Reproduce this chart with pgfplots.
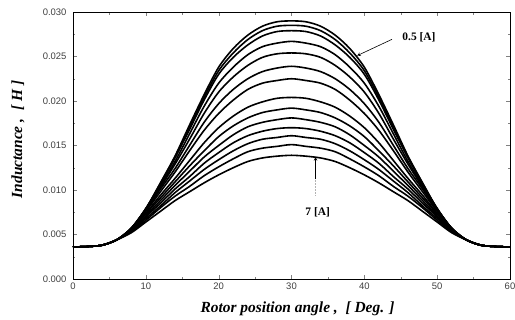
\documentclass[border=0pt]{standalone}
\usepackage{pgfplots}
\usepackage{pgfplotstable}
\pgfplotsset{compat=1.18}
\usepackage{fontspec}
\setmainfont{Liberation Serif}
\newfontfamily\arialf{Liberation Sans}
\pgfplotstableread{
t a b c d e f g h i j k l m n
0 0.0036 0.0036 0.0036 0.0036 0.0036 0.0036 0.0036 0.0036 0.0036 0.0036 0.0036 0.0036 0.0036 0.0036
2 0.00365 0.00365 0.00365 0.00365 0.00365 0.00365 0.00365 0.00365 0.00365 0.00365 0.00365 0.00365 0.00365 0.00365
4 0.0038 0.0038 0.0038 0.0038 0.0038 0.0038 0.0038 0.0038 0.0038 0.0038 0.0038 0.0038 0.0038 0.0038
6 0.0044 0.0044 0.0044 0.0044 0.0044 0.0044 0.0044 0.0044 0.0044 0.0044 0.0044 0.0044 0.0044 0.0044
8 0.0057 0.0057 0.0057 0.0057 0.0057 0.0057 0.0056 0.0056 0.0055 0.0055 0.0054 0.0054 0.0053 0.0052
10 0.0079 0.0079 0.0079 0.0079 0.0078 0.0077 0.0076 0.0074 0.0073 0.0071 0.0070 0.0068 0.0066 0.0064
12 0.0108 0.0107 0.0107 0.0105 0.0103 0.0101 0.0098 0.0094 0.0091 0.0088 0.0085 0.0082 0.0080 0.0076
14 0.0138 0.0137 0.0136 0.0132 0.0129 0.0124 0.0120 0.0113 0.0109 0.0105 0.0101 0.0097 0.0093 0.0088
16 0.0173 0.0171 0.0168 0.0163 0.0157 0.0150 0.0144 0.0133 0.0127 0.0121 0.0115 0.0110 0.0104 0.0098
18 0.0207 0.0204 0.0201 0.0194 0.0186 0.0176 0.0167 0.0153 0.0144 0.0137 0.0130 0.0123 0.0116 0.0108
20 0.0238 0.0234 0.0230 0.0220 0.0210 0.0197 0.0186 0.0170 0.0160 0.0150 0.0142 0.0134 0.0126 0.0117
22 0.0259 0.0254 0.0249 0.0238 0.0227 0.0213 0.0201 0.0183 0.0172 0.0162 0.0153 0.0144 0.0135 0.0125
24 0.0274 0.0269 0.0263 0.0252 0.0240 0.0225 0.0213 0.0193 0.0181 0.0171 0.0161 0.0152 0.0143 0.0132
26 0.0284 0.0279 0.0273 0.0261 0.0249 0.0233 0.0220 0.0199 0.0187 0.0176 0.0166 0.0157 0.0147 0.0136
28 0.0289 0.0284 0.0278 0.0265 0.0253 0.0237 0.0223 0.0203 0.0190 0.0179 0.0169 0.0159 0.0149 0.0138
30 0.0290 0.0285 0.0279 0.0267 0.0254 0.0239 0.0225 0.0204 0.0192 0.0181 0.0170 0.0161 0.0151 0.0139
32 0.0289 0.0284 0.0278 0.0265 0.0253 0.0237 0.0223 0.0203 0.0190 0.0179 0.0169 0.0159 0.0149 0.0138
34 0.0284 0.0279 0.0273 0.0261 0.0249 0.0233 0.0220 0.0199 0.0187 0.0176 0.0166 0.0157 0.0147 0.0136
36 0.0274 0.0269 0.0263 0.0252 0.0240 0.0225 0.0213 0.0193 0.0181 0.0171 0.0161 0.0152 0.0143 0.0132
38 0.0259 0.0254 0.0249 0.0238 0.0227 0.0213 0.0201 0.0183 0.0172 0.0162 0.0153 0.0144 0.0135 0.0125
40 0.0238 0.0234 0.0230 0.0220 0.0210 0.0197 0.0186 0.0170 0.0160 0.0150 0.0142 0.0134 0.0126 0.0117
42 0.0207 0.0204 0.0201 0.0194 0.0186 0.0176 0.0167 0.0153 0.0144 0.0137 0.0130 0.0123 0.0116 0.0108
44 0.0173 0.0171 0.0168 0.0163 0.0157 0.0150 0.0144 0.0133 0.0127 0.0121 0.0115 0.0110 0.0104 0.0098
46 0.0138 0.0137 0.0136 0.0132 0.0129 0.0124 0.0120 0.0113 0.0109 0.0105 0.0101 0.0097 0.0093 0.0088
48 0.0108 0.0107 0.0107 0.0105 0.0103 0.0101 0.0098 0.0094 0.0091 0.0088 0.0085 0.0082 0.0080 0.0076
50 0.0079 0.0079 0.0079 0.0079 0.0078 0.0077 0.0076 0.0074 0.0073 0.0071 0.0070 0.0068 0.0066 0.0064
52 0.0057 0.0057 0.0057 0.0057 0.0057 0.0057 0.0056 0.0056 0.0055 0.0055 0.0054 0.0054 0.0053 0.0052
54 0.0044 0.0044 0.0044 0.0044 0.0044 0.0044 0.0044 0.0044 0.0044 0.0044 0.0044 0.0044 0.0044 0.0044
56 0.0038 0.0038 0.0038 0.0038 0.0038 0.0038 0.0038 0.0038 0.0038 0.0038 0.0038 0.0038 0.0038 0.0038
58 0.00365 0.00365 0.00365 0.00365 0.00365 0.00365 0.00365 0.00365 0.00365 0.00365 0.00365 0.00365 0.00365 0.00365
60 0.0036 0.0036 0.0036 0.0036 0.0036 0.0036 0.0036 0.0036 0.0036 0.0036 0.0036 0.0036 0.0036 0.0036
}\ind
\begin{document}
\begin{tikzpicture}
\useasboundingbox (-73bp,-41bp) rectangle (442bp,279bp);
\begin{axis}[
  scale only axis,
  width=437bp, height=267bp,
  xmin=0, xmax=60, ymin=0, ymax=0.030,
  xtick={0,10,...,60},
  ytick={0,0.005,...,0.030},
  minor x tick num=1, minor y tick num=1,
  tick align=inside,
  major tick length=4bp, minor tick length=2.5bp,
  scaled y ticks=false,
  yticklabel style={xshift=-3bp, /pgf/number format/.cd, fixed, fixed zerofill, precision=3, assume math mode=true},
  xticklabel style={/pgf/number format/assume math mode=true},
  ticklabel style={font=\arialf\fontsize{9.5}{11}\selectfont, text=black!75},
  axis line style={line width=0.9bp},
  xlabel={\bfseries\itshape Rotor position angle ,~ [ Deg. ]},
  ylabel={\bfseries\itshape Inductance ,~ [ H ]},
  label style={font=\fontsize{15.5}{17}\selectfont},
  xlabel style={at={(axis description cs:0.5,0)}, anchor=north, xshift=6bp, yshift=-19bp},
  ylabel style={at={(axis description cs:0,0.5)}, anchor=south, yshift=45bp, xshift=6bp},
  cur/.style={black, line width=1.6bp, smooth, mark=none, line join=round},
  clip=true,
]
\addplot[cur] table[x=t,y=a]{\ind};
\addplot[cur] table[x=t,y=b]{\ind};
\addplot[cur] table[x=t,y=c]{\ind};
\addplot[cur] table[x=t,y=d]{\ind};
\addplot[cur] table[x=t,y=e]{\ind};
\addplot[cur] table[x=t,y=f]{\ind};
\addplot[cur] table[x=t,y=g]{\ind};
\addplot[cur] table[x=t,y=h]{\ind};
\addplot[cur] table[x=t,y=i]{\ind};
\addplot[cur] table[x=t,y=j]{\ind};
\addplot[cur] table[x=t,y=k]{\ind};
\addplot[cur] table[x=t,y=l]{\ind};
\addplot[cur] table[x=t,y=m]{\ind};
\addplot[cur] table[x=t,y=n]{\ind};
\draw[-stealth, line width=0.6bp] (axis cs:43.8,0.02693) -- (axis cs:39.0,0.02509);
\node[font=\bfseries\fontsize{11.5}{12}\selectfont] at (axis cs:47.5,0.02713) {0.5 [A]};
\draw[-stealth, line width=0.6bp] (axis cs:33.3,0.0112) -- (axis cs:33.3,0.0137);
\draw[line width=0.5bp, gray!60, densely dotted] (axis cs:33.3,0.0094) -- (axis cs:33.3,0.0112);
\node[font=\bfseries\fontsize{11.5}{12}\selectfont] at (axis cs:33.6,0.0075) {7 [A]};
\end{axis}
\end{tikzpicture}
\end{document}
